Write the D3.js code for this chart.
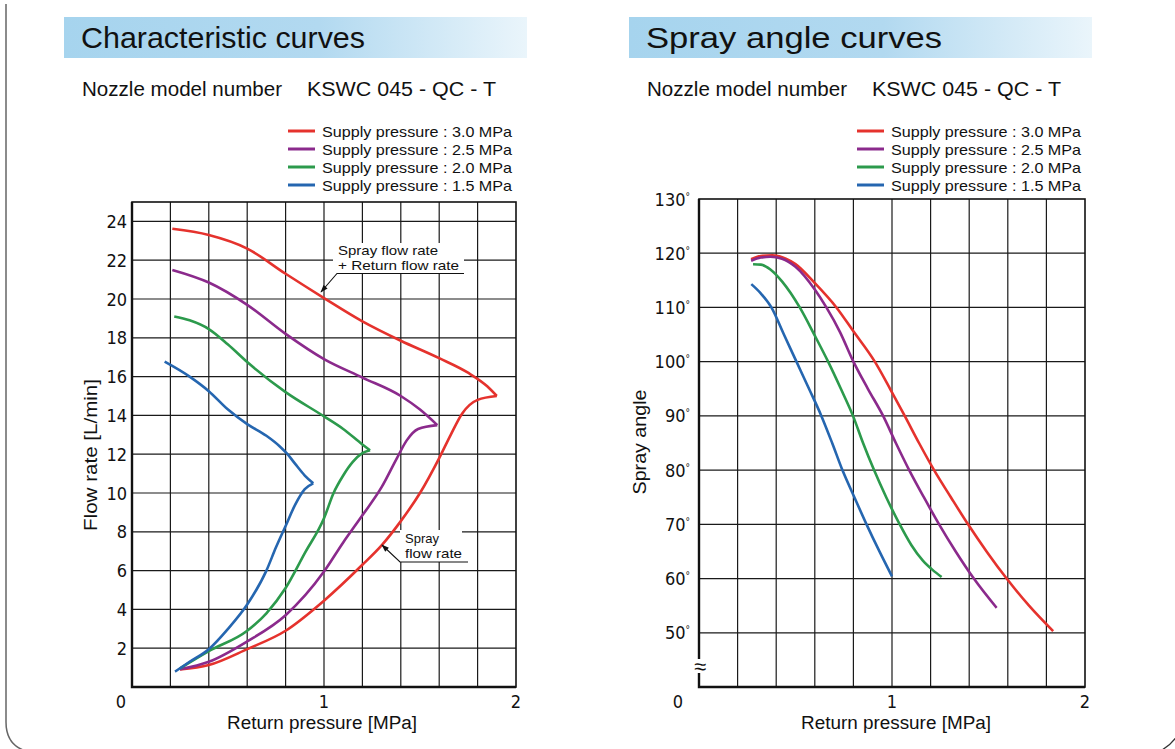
<!DOCTYPE html>
<html>
<head>
<meta charset="utf-8">
<script src="https://cdn.jsdelivr.net/npm/d3@7"></script>
<style>
  html, body { margin: 0; padding: 0; background: #fff; }
  svg { display: block; }
  text { font-family: 'Liberation Sans', Arial, sans-serif; fill: #111; }
  .tick-label { font-family: 'Liberation Sans Narrow', 'DejaVu Sans Condensed', 'Liberation Sans', sans-serif; font-size: 18px; }
</style>
</head>
<body>
<div id="chart"></div>
<script>
// Characteristic + spray angle curves, nozzle KSWC 045-QC-T

const pressures = ["3.0", "2.5", "2.0", "1.5"];
const seriesColors = ["#e5322d", "#8b2a8c", "#2c9a4c", "#2566b0"];
const xLabels = [0, 1, 2];
const flowTicks = [2, 4, 6, 8, 10, 12, 14, 16, 18, 20, 22, 24];
const angleTicks = [50, 60, 70, 80, 90, 100, 110, 120, 130];

// flow rate curves: upper branch = spray + return flow, lower branch = spray flow
const total30 = [[0.21, 23.62], [0.4, 23.3], [0.6, 22.6], [0.8, 21.3], [1.0, 20.05], [1.2, 18.85], [1.4, 17.85], [1.6, 16.95], [1.75, 16.2], [1.85, 15.5], [1.9, 15.0]];
const spray30 = [[0.25, 0.9], [0.4, 1.13], [0.6, 1.95], [0.8, 2.9], [1.0, 4.45], [1.2, 6.3], [1.3, 7.3], [1.4, 8.55], [1.5, 10.0], [1.6, 11.8], [1.66, 13.0], [1.72, 14.1], [1.8, 14.8], [1.9, 15.0]];
const total25 = [[0.21, 21.5], [0.4, 20.85], [0.6, 19.7], [0.8, 18.2], [1.0, 16.9], [1.2, 15.95], [1.4, 15.0], [1.5, 14.3], [1.59, 13.5]];
const spray25 = [[0.25, 0.91], [0.4, 1.3], [0.6, 2.35], [0.8, 3.7], [1.0, 5.95], [1.1, 7.45], [1.2, 8.85], [1.3, 10.3], [1.38, 11.8], [1.43, 12.7], [1.49, 13.3], [1.59, 13.5]];
const total20 = [[0.22, 19.1], [0.3, 18.9], [0.4, 18.45], [0.5, 17.65], [0.6, 16.75], [0.8, 15.2], [1.0, 13.95], [1.1, 13.3], [1.2, 12.5], [1.24, 12.2]];
const spray20 = [[0.25, 0.96], [0.4, 1.85], [0.6, 2.9], [0.7, 3.8], [0.8, 5.1], [0.9, 6.9], [1.0, 8.7], [1.05, 10.0], [1.1, 10.9], [1.15, 11.6], [1.2, 12.05], [1.24, 12.2]];
const total15 = [[0.17, 16.77], [0.3, 16.0], [0.4, 15.25], [0.5, 14.3], [0.6, 13.55], [0.7, 12.95], [0.77, 12.4], [0.81, 12.0], [0.85, 11.5], [0.9, 10.9], [0.944, 10.5]];
const spray15 = [[0.224, 0.79], [0.3, 1.3], [0.4, 1.95], [0.5, 3.0], [0.6, 4.25], [0.7, 6.0], [0.75, 7.2], [0.8, 8.3], [0.85, 9.4], [0.9, 10.2], [0.944, 10.5]];

// spray angle curves
const angle30 = [[0.27, 118.9], [0.32, 119.5], [0.38, 119.6], [0.45, 119.0], [0.5, 118.0], [0.6, 114.5], [0.712, 110.0], [0.8, 105.6], [0.911, 100.0], [0.99, 95.0], [1.066, 90.0], [1.14, 85.0], [1.218, 80.0], [1.305, 75.0], [1.394, 70.0], [1.49, 65.0], [1.594, 60.0], [1.71, 55.0], [1.835, 50.3]];
const angle25 = [[0.27, 118.6], [0.32, 119.2], [0.37, 119.35], [0.43, 119.0], [0.5, 117.5], [0.6, 113.3], [0.66, 110.0], [0.73, 105.5], [0.8, 100.0], [0.875, 95.0], [0.954, 90.0], [1.02, 85.0], [1.089, 80.0], [1.165, 75.0], [1.244, 70.0], [1.33, 65.0], [1.424, 60.0], [1.542, 54.6]];
const angle20 = [[0.28, 117.96], [0.32, 117.9], [0.37, 117.0], [0.43, 114.8], [0.522, 110.0], [0.6, 104.8], [0.669, 100.0], [0.735, 95.0], [0.798, 90.0], [0.85, 85.0], [0.907, 80.0], [0.97, 75.0], [1.04, 70.0], [1.1, 66.2], [1.16, 63.3], [1.21, 61.6], [1.257, 60.3]];
const angle15 = [[0.271, 114.3], [0.32, 112.6], [0.375, 110.0], [0.44, 105.0], [0.505, 100.0], [0.57, 95.0], [0.634, 90.0], [0.69, 85.0], [0.743, 80.0], [0.805, 75.0], [0.868, 70.0], [0.935, 65.0], [1.0, 60.4]];

const flowSeries = [[total30, spray30], [total25, spray25], [total20, spray20], [total15, spray15]];
const angleSeries = [angle30, angle25, angle20, angle15];

const W = 1175, H = 749;
const svg = d3.select("#chart").append("svg")
    .attr("width", W)
    .attr("height", H);

// page frame (rounded, runs off the page)
svg.append("path")
    .attr("d", "M6,4 V722 Q6,745 26,751")
    .attr("fill", "none")
    .attr("stroke", "#666")
    .attr("stroke-width", 1.5);
svg.append("path")
    .attr("d", "M1160,751 Q1170,746 1177,736")
    .attr("fill", "none")
    .attr("stroke", "#333")
    .attr("stroke-width", 1.2);

const defs = svg.append("defs");
const grad = defs.append("linearGradient").attr("id", "titleGrad");
grad.append("stop").attr("offset", "0%").attr("stop-color", "#a6d4ee");
grad.append("stop").attr("offset", "55%").attr("stop-color", "#b2d9f0");
grad.append("stop").attr("offset", "100%").attr("stop-color", "#eaf5fb");

function header(x0, title, titleLen) {
    svg.append("rect")
        .attr("x", x0).attr("y", 17)
        .attr("width", 463).attr("height", 41)
        .attr("fill", "url(#titleGrad)");
    svg.append("text")
        .attr("x", x0 + 17).attr("y", 48)
        .attr("font-size", 29)
        .attr("textLength", titleLen)
        .attr("lengthAdjust", "spacingAndGlyphs")
        .text(title);
    svg.append("text")
        .attr("x", x0 + 18).attr("y", 96)
        .attr("font-size", 20)
        .attr("textLength", 200)
        .attr("lengthAdjust", "spacingAndGlyphs")
        .text("Nozzle model number");
    svg.append("text")
        .attr("x", x0 + 243).attr("y", 96)
        .attr("font-size", 20)
        .attr("textLength", 189)
        .attr("lengthAdjust", "spacingAndGlyphs")
        .text("KSWC 045 - QC - T");
}

function legend(x0) {
    const g = svg.append("g");
    pressures.forEach((p, i) => {
        const y = 131 + i * 18;
        g.append("line")
            .attr("x1", x0).attr("x2", x0 + 27)
            .attr("y1", y).attr("y2", y)
            .attr("stroke", seriesColors[i])
            .attr("stroke-width", 3);
        g.append("text")
            .attr("x", x0 + 34).attr("y", y + 5.5)
            .attr("font-size", 15)
            .attr("textLength", 190)
            .attr("lengthAdjust", "spacingAndGlyphs")
            .text(`Supply pressure : ${p} MPa`);
    });
}

function grid(g, x, y, yGrid) {
    g.append("g").selectAll("line")
        .data(x.ticks(10).slice(1, -1))
        .enter().append("line")
        .attr("x1", d => x(d)).attr("x2", d => x(d))
        .attr("y1", y.range()[1]).attr("y2", y.range()[0])
        .attr("stroke", "#1a1a1a")
        .attr("stroke-width", 1.2);
    g.append("g").selectAll("line")
        .data(yGrid)
        .enter().append("line")
        .attr("x1", x.range()[0]).attr("x2", x.range()[1])
        .attr("y1", d => y(d)).attr("y2", d => y(d))
        .attr("stroke", "#1a1a1a")
        .attr("stroke-width", 1.2);
}

function frame(g, x, y) {
    const [x0, x1] = x.range(), [y0, y1] = [y.range()[1], y.range()[0]];
    g.append("rect")
        .attr("x", x0).attr("y", y0)
        .attr("width", x1 - x0).attr("height", y1 - y0)
        .attr("fill", "none")
        .attr("stroke", "#111")
        .attr("stroke-width", 1.6);
    g.append("path")
        .attr("d", `M${x0},${y0} V${y1} H${x1}`)
        .attr("fill", "none")
        .attr("stroke", "#111")
        .attr("stroke-width", 2.4);
}

function xAxisLabels(g, x, zeroOffset) {
    g.append("g").selectAll("text")
        .data(xLabels)
        .enter().append("text")
        .attr("class", "tick-label")
        .attr("x", d => x(d) + (d === 0 ? zeroOffset : 0))
        .attr("y", 708)
        .attr("text-anchor", "middle")
        .text(d => d);
}

const line = (x, y) => d3.line()
    .x(d => x(d[0]))
    .y(d => y(d[1]))
    .curve(d3.curveMonotoneX);

// ---------- left: characteristic curves ----------
header(64, "Characteristic curves", 284);
legend(288);

const xL = d3.scaleLinear().domain([0, 2]).range([132, 516]);
const yL = d3.scaleLinear().domain([0, 25]).range([687, 202]);
const gL = svg.append("g");
grid(gL, xL, yL, flowTicks);

// annotation backgrounds hide the grid behind the labels
gL.append("rect").attr("x", 333).attr("y", 243).attr("width", 131).attr("height", 30).attr("fill", "#fff");
gL.append("rect").attr("x", 400).attr("y", 530).attr("width", 62).attr("height", 32).attr("fill", "#fff");

frame(gL, xL, yL);

const lineL = line(xL, yL);
flowSeries.forEach((branches, i) => {
    branches.forEach(b => {
        gL.append("path")
            .attr("d", lineL(b))
            .attr("fill", "none")
            .attr("stroke", seriesColors[i])
            .attr("stroke-width", 2.6)
            .attr("stroke-linejoin", "miter");
    });
});

gL.append("g").selectAll("text")
    .data(flowTicks)
    .enter().append("text")
    .attr("class", "tick-label")
    .attr("x", 127)
    .attr("y", d => yL(d) + 6.5)
    .attr("text-anchor", "end")
    .text(d => d);
xAxisLabels(gL, xL, -11);

gL.append("text")
    .attr("x", 322).attr("y", 729)
    .attr("text-anchor", "middle")
    .attr("font-size", 18)
    .attr("textLength", 190)
    .attr("lengthAdjust", "spacingAndGlyphs")
    .text("Return pressure [MPa]");
gL.append("text")
    .attr("transform", "translate(97,455) rotate(-90)")
    .attr("text-anchor", "middle")
    .attr("font-size", 19)
    .attr("textLength", 152)
    .attr("lengthAdjust", "spacingAndGlyphs")
    .text("Flow rate [L/min]");

// annotation arrows
defs.append("marker")
    .attr("id", "arrow")
    .attr("viewBox", "0 0 10 10")
    .attr("refX", 9).attr("refY", 5)
    .attr("markerWidth", 9).attr("markerHeight", 7)
    .attr("orient", "auto")
    .append("path").attr("d", "M0,1.5 L10,5 L0,8.5 Z").attr("fill", "#111");

gL.append("text").attr("x", 338).attr("y", 255).attr("font-size", 13)
    .attr("textLength", 100).attr("lengthAdjust", "spacingAndGlyphs").text("Spray flow rate");
gL.append("text").attr("x", 338).attr("y", 270).attr("font-size", 13)
    .attr("textLength", 121).attr("lengthAdjust", "spacingAndGlyphs").text("+ Return flow rate");
gL.append("path").attr("d", "M464,273.5 H337 L321,292")
    .attr("fill", "none").attr("stroke", "#111").attr("stroke-width", 1.1)
    .attr("marker-end", "url(#arrow)");

gL.append("text").attr("x", 405).attr("y", 543).attr("font-size", 13).text("Spray");
gL.append("text").attr("x", 405).attr("y", 558).attr("font-size", 13)
    .attr("textLength", 57).attr("lengthAdjust", "spacingAndGlyphs").text("flow rate");
gL.append("path").attr("d", "M468,562 H400 L382,545")
    .attr("fill", "none").attr("stroke", "#111").attr("stroke-width", 1.1)
    .attr("marker-end", "url(#arrow)");

// ---------- right: spray angle curves ----------
header(629, "Spray angle curves", 296);
legend(857);

const xR = d3.scaleLinear().domain([0, 2]).range([699, 1085]);
const yR = d3.scaleLinear().domain([40, 130]).range([687, 199]);
const gR = svg.append("g");
grid(gR, xR, yR, angleTicks.slice(0, -1));
frame(gR, xR, yR);

const lineR = line(xR, yR);
angleSeries.forEach((s, i) => {
    gR.append("path")
        .attr("d", lineR(s))
        .attr("fill", "none")
        .attr("stroke", seriesColors[i])
        .attr("stroke-width", 2.6);
});

const angleLabels = gR.append("g").selectAll("text")
    .data(angleTicks)
    .enter().append("text")
    .attr("class", "tick-label")
    .attr("x", 690)
    .attr("y", d => yR(d) + 6.5)
    .attr("text-anchor", "end");
angleLabels.append("tspan").text(d => d);
angleLabels.append("tspan").attr("font-size", 10).attr("dy", -6).text("°");

xAxisLabels(gR, xR, -21);

// axis break mark
gR.append("rect").attr("x", 692).attr("y", 659).attr("width", 15).attr("height", 14).attr("fill", "#fff");
gR.append("text").attr("x", 700).attr("y", 674).attr("text-anchor", "middle")
    .attr("font-size", 22).text("≈");

gR.append("text")
    .attr("x", 896).attr("y", 729)
    .attr("text-anchor", "middle")
    .attr("font-size", 18)
    .attr("textLength", 190)
    .attr("lengthAdjust", "spacingAndGlyphs")
    .text("Return pressure [MPa]");
gR.append("text")
    .attr("transform", "translate(646,442) rotate(-90)")
    .attr("text-anchor", "middle")
    .attr("font-size", 18)
    .attr("textLength", 105)
    .attr("lengthAdjust", "spacingAndGlyphs")
    .text("Spray angle");
</script>
</body>
</html>
